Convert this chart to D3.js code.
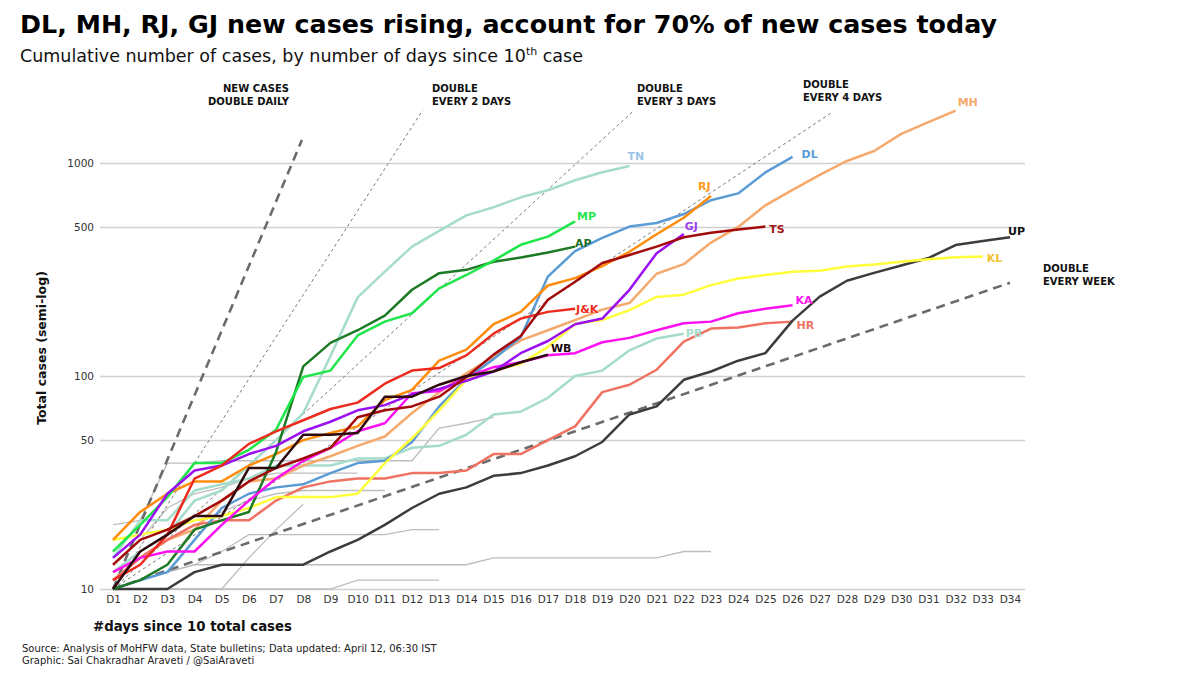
<!DOCTYPE html>
<html>
<head>
<meta charset="utf-8">
<script src="https://cdnjs.cloudflare.com/ajax/libs/d3/7.8.5/d3.min.js"></script>
<style>
  body { margin: 0; background: #fff; }
  svg { display: block; font-family: "DejaVu Sans", Verdana, sans-serif; }
</style>
</head>
<body>
<svg id="chart" width="1200" height="675"></svg>
<script>
// tick labels
var dayLabels = ["D1","D2","D3","D4","D5","D6","D7","D8","D9","D10","D11","D12","D13","D14","D15","D16","D17",
                 "D18","D19","D20","D21","D22","D23","D24","D25","D26","D27","D28","D29","D30","D31","D32","D33","D34"];
var yTicks = [10, 50, 100, 500, 1000];

// cumulative cases by day since 10th case
var MH = [11,14,17,19,26,32,33,38,42,47,52,67,84,103,123,147,164,183,205,220,302,335,423,501,633,748,880,1022,1138,1370,1557,1761];
var DL = [10,11,12,17,24,28,30,31,35,39,40,49,72,97,120,152,293,386,445,503,523,576,669,720,903,1069];
var TN = [12,15,18,26,29,38,50,67,124,234,309,405,480,568,620,690,745,830,905,969];
var RJ = [17,23,28,32,32,38,43,50,54,58,77,86,118,133,175,200,266,288,328,383,463,553,700];
var MP = [15,20,27,39,39,45,56,99,106,155,180,197,258,298,348,413,451,532];
var AP = [10,11,13,19,21,23,44,111,143,164,192,254,304,315,344,360,380,405];
var GJ = [14,18,28,36,38,43,47,55,61,69,73,82,87,95,105,128,146,175,186,254,377,464];
var TS = [13,17,19,22,26,32,37,41,46,64,69,72,80,99,126,154,228,277,339,370,405,448,470,487,503];
var UP = [10,10,10,12,13,13,13,13,15,17,20,24,28,30,34,35,38,42,49,66,72,96,105,118,128,182,236,280,305,330,358,412,430,448];
var KL = [17,18,19,21,22,24,27,27,27,28,39,51,69,96,106,114,137,176,183,204,235,241,267,287,298,309,312,327,334,344,353,361,364];
var JK = [11,13,18,33,38,48,55,62,70,75,92,106,109,125,158,186,200,207];
var KA = [12,14,15,15,20,26,33,40,46,55,60,83,85,99,110,116,125,128,144,151,164,177,180,197,207,215];
var HR = [11,14,17,20,21,21,26,30,32,33,33,35,35,36,43,43,50,58,84,91,107,145,167,169,177,180];
var PB = [14,21,21,29,31,33,38,38,38,41,41,46,47,53,66,68,79,100,106,132,150,158];
var WB = [10,15,18,22,22,37,37,53,53,54,80,80,91,100,105,116,126];

// other states, unlabelled grey lines
var G1 = [20,21,39,39,40,40,40,40,40,40,40,40,57,60,64];
var G2 = [13,17,24,28,30,33,35,35,35,35];
var G3 = [11,14,17,20,23,26,28,29,29,29,29];
var G4 = [10,11,12,13,15,18,18,18,18,18,18,19,19];
var G5 = [10,10,10,10,10,14,19,25];
var G6 = [10,11,12,13,13,13,13,13,13,13,13,13,13,13,14,14,14,14,14,14,14,15,15];
var G7 = [10,10,10,10,10,10,10,10,10,11,11,11,11];

// doubling guide lines: start/end (day, cases) as drawn
var refNames    = ["daily", "2 days", "3 days", "4 days", "week"];
var refStartDay = [1, 1, 1, 1, 1];
var refStartVal = [10, 10, 10, 10, 10];
var refEndDay   = [7.95, 12.4, 20.1, 27.5, 34];
var refEndVal   = [1282, 1775, 1734, 1745, 274];

var states = [
  {key: "TN", values: TN}, {key: "PB", values: PB}, {key: "MH", values: MH}, {key: "HR", values: HR},
  {key: "DL", values: DL}, {key: "UP", values: UP}, {key: "KL", values: KL}, {key: "RJ", values: RJ},
  {key: "AP", values: AP}, {key: "MP", values: MP}, {key: "KA", values: KA}, {key: "GJ", values: GJ},
  {key: "J&K", values: JK}, {key: "TS", values: TS}, {key: "WB", values: WB}
];
var greys = [G1, G2, G3, G4, G5, G6, G7];

var lineColor = {
  "MH": "#f6a96c", "DL": "#5b9bd5", "TN": "#a6dccb", "RJ": "#ff8c0a", "MP": "#1fe64a", "AP": "#1d7a24",
  "GJ": "#9a10f0", "TS": "#a30a0a", "UP": "#3c3c3c", "KL": "#ffff3a", "J&K": "#ec2b1e", "KA": "#ff10f0",
  "HR": "#ef7262", "PB": "#a6dccb", "WB": "#2e0a0e"
};
var labelColor = {
  "MH": "#f6a96c", "DL": "#5b9bd5", "TN": "#9dc3e6", "RJ": "#ff9a1a", "MP": "#1fe64a", "AP": "#1d6e24",
  "GJ": "#a040f0", "TS": "#a31515", "UP": "#111111", "KL": "#f0c22e", "J&K": "#ec2b1e", "KA": "#ff10f0",
  "HR": "#ef7262", "PB": "#a6dccb", "WB": "#1a0a0a"
};
// label baseline offsets from last point
var labelOff = {
  "MH": [2,-5], "DL": [9,1], "TN": [-2,-6], "RJ": [-13,-6], "MP": [2,-1], "AP": [0,0], "GJ": [1,-4],
  "TS": [4,6], "UP": [-2,-2], "KL": [4,6], "J&K": [1,4], "KA": [3,-1], "HR": [4,7], "PB": [2,3], "WB": [3,-3]
};

var svg = d3.select("#chart");

var x = d3.scaleLinear().domain([1, 34]).range([113, 1010]);
var y = d3.scaleLog().domain([10, 1000]).range([589, 163]);

function fit(sel, target, always) {
  var n = sel.node();
  if (always || n.getComputedTextLength() > target) {
    sel.attr("textLength", target).attr("lengthAdjust", "spacingAndGlyphs");
  }
}

// title
var t = svg.append("text").attr("x", 20).attr("y", 33)
  .attr("font-size", 25.5).attr("font-weight", "bold").attr("fill", "#000")
  .text("DL, MH, RJ, GJ new cases rising, account for 70% of new cases today");
fit(t, 977, true);

var st = svg.append("text").attr("x", 20).attr("y", 62)
  .attr("font-size", 17.5).attr("fill", "#111");
st.append("tspan").text("Cumulative number of cases, by number of days since 10");
st.append("tspan").attr("font-size", 11).attr("dy", -7).text("th");
st.append("tspan").attr("dy", 7).text(" case");
fit(st, 563, true);

// grid
var yAxis = d3.axisLeft(y).tickValues(yTicks).tickFormat(d3.format("d")).tickSize(-925).tickPadding(8);
var grid = svg.append("g").attr("transform", "translate(100,0)").call(yAxis);
grid.select(".domain").remove();
grid.selectAll(".tick line").attr("stroke", "#d0d0d0").attr("stroke-width", 1.5);
grid.selectAll(".tick text").attr("font-size", 10.5).attr("fill", "#333")
  .attr("font-family", "DejaVu Sans, Verdana, sans-serif").attr("x", -6);

var xAxis = d3.axisBottom(x).tickValues(d3.range(1, 35)).tickFormat(function(d) { return dayLabels[d - 1]; })
  .tickSize(0).tickPadding(7);
var gx = svg.append("g").attr("transform", "translate(0,589)").call(xAxis);
gx.select(".domain").remove();
gx.selectAll(".tick text").attr("font-size", 10.5).attr("fill", "#333")
  .attr("font-family", "DejaVu Sans, Verdana, sans-serif");

var line = d3.line()
  .x(function(d, i) { return x(i + 1); })
  .y(function(d) { return y(d); });

// grey states
svg.append("g").selectAll("path").data(greys).enter().append("path")
  .attr("d", line).attr("fill", "none").attr("stroke", "#bdbdbd").attr("stroke-width", 1.3);

// doubling guides
var refs = refNames.map(function(n, i) {
  return {name: n, pts: [[refStartDay[i], refStartVal[i]], [refEndDay[i], refEndVal[i]]]};
});
function thick(d) { return d.name == "daily" || d.name == "week"; }
svg.append("g").selectAll("line").data(refs).enter().append("line")
  .attr("x1", function(d) { return x(d.pts[0][0]); })
  .attr("y1", function(d) { return y(d.pts[0][1]); })
  .attr("x2", function(d) { return x(d.pts[1][0]); })
  .attr("y2", function(d) { return y(d.pts[1][1]); })
  .attr("stroke", function(d) { return thick(d) ? "#6b6b6b" : "#777"; })
  .attr("stroke-width", function(d) { return thick(d) ? 2.6 : 1; })
  .attr("stroke-dasharray", function(d) { return thick(d) ? "9,6" : "3,3"; });

// states
svg.append("g").selectAll("path").data(states).enter().append("path")
  .attr("d", function(d) { return line(d.values); })
  .attr("fill", "none")
  .attr("stroke", function(d) { return lineColor[d.key]; })
  .attr("stroke-width", 2.5)
  .attr("stroke-linejoin", "round");

svg.append("g").selectAll("text").data(states).enter().append("text")
  .attr("x", function(d) { return x(d.values.length) + labelOff[d.key][0]; })
  .attr("y", function(d) { return y(d.values[d.values.length - 1]) + labelOff[d.key][1]; })
  .attr("font-size", 11).attr("font-weight", "bold")
  .attr("fill", function(d) { return labelColor[d.key]; })
  .text(function(d) { return d.key; });

// guide annotations
function note(lines, xx, yy, anchor) {
  var tx = svg.append("text").attr("x", xx).attr("y", yy).attr("font-size", 10)
    .attr("font-weight", "bold").attr("fill", "#111").attr("text-anchor", anchor || "start");
  lines.forEach(function(l, i) {
    tx.append("tspan").attr("x", xx).attr("dy", i == 0 ? 0 : 13).text(l);
  });
}
note(["NEW CASES", "DOUBLE DAILY"], 289, 92, "end");
note(["DOUBLE", "EVERY 2 DAYS"], 432, 92);
note(["DOUBLE", "EVERY 3 DAYS"], 637, 92);
note(["DOUBLE", "EVERY 4 DAYS"], 803, 88);
note(["DOUBLE", "EVERY WEEK"], 1043, 272);

// axis titles
var yl = svg.append("text").attr("transform", "translate(46,348) rotate(-90)")
  .attr("text-anchor", "middle").attr("font-size", 12.5).attr("font-weight", "bold").attr("fill", "#111")
  .text("Total cases (semi-log)");
fit(yl, 157);
var xl = svg.append("text").attr("x", 93).attr("y", 631).attr("font-size", 14).attr("font-weight", "bold")
  .attr("fill", "#111").text("#days since 10 total cases");
fit(xl, 199);

var s1 = svg.append("text").attr("x", 22).attr("y", 652).attr("font-size", 10).attr("fill", "#222")
  .text("Source: Analysis of MoHFW data, State bulletins; Data updated: April 12, 06:30 IST");
fit(s1, 428);
var s2 = svg.append("text").attr("x", 22).attr("y", 664).attr("font-size", 10).attr("fill", "#222")
  .text("Graphic: Sai Chakradhar Araveti / @SaiAraveti");
fit(s2, 240);
</script>
</body>
</html>
